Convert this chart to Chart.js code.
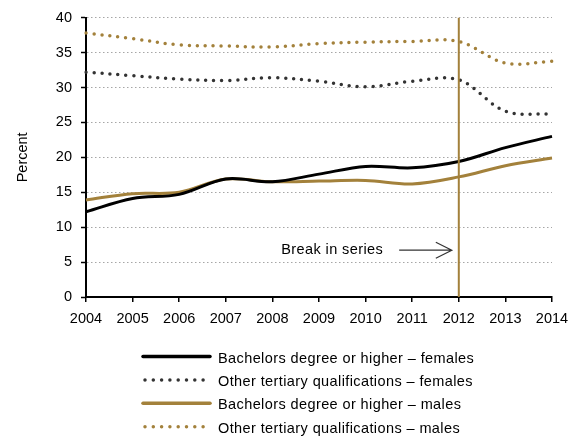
<!DOCTYPE html>
<html>
<head>
<meta charset="utf-8">
<script src="https://cdn.jsdelivr.net/npm/chart.js@4/dist/chart.umd.min.js"></script>
<style>
html,body{margin:0;padding:0;background:#fff;}
#wrap{width:577px;height:436px;}
</style>
</head>
<body>
<div id="wrap"><canvas id="c" width="577" height="436"></canvas></div>
<script>
const years = ['2004','2005','2006','2007','2008','2009','2010','2011','2012','2013','2014'];
const bachelorsFemales = [12.2, 14.1, 14.7, 16.9, 16.5, 17.6, 18.7, 18.5, 19.4, 21.4, 23.0];
const otherFemales     = [32.2, 31.7, 31.2, 31.0, 31.4, 30.9, 30.1, 30.9, 31.1, 26.6, 26.2];
const bachelorsMales   = [13.9, 14.8, 15.0, 16.9, 16.5, 16.6, 16.7, 16.2, 17.2, 18.8, 19.9];
const otherMales       = [37.8, 37.0, 36.1, 35.95, 35.8, 36.3, 36.5, 36.6, 36.6, 33.5, 33.75];
const seriesLabels = [
  'Bachelors degree or higher \u2013 females',
  'Other tertiary qualifications \u2013 females',
  'Bachelors degree or higher \u2013 males',
  'Other tertiary qualifications \u2013 males'
];
const breakYear = '2012';
const breakText = 'Break in series';

const BLACK = '#000000';
const GOLD = '#a3813b';
const DOT_DARK = '#333333';
const FONT = '"Liberation Sans", Arial, sans-serif';
const FS = 14.5;

const solid = (c) => ({borderColor: c, backgroundColor: c, borderWidth: 3, pointRadius: 0, tension: 0.35, fill: false, borderCapStyle: 'butt'});
const dotted = (c) => ({borderColor: c, backgroundColor: c, borderWidth: 3.5, borderDash: [0, 8], borderCapStyle: 'round', pointRadius: 0, tension: 0.35, fill: false});

const annotationPlugin = {
  id: 'breakAnno',
  afterDatasetsDraw(chart) {
    const ctx = chart.ctx, xs = chart.scales.x, ys = chart.scales.y, ca = chart.chartArea;
    const i0 = years.indexOf(breakYear);
    const bx = xs.getPixelForValue(i0);
    ctx.save();
    ctx.strokeStyle = GOLD; ctx.lineWidth = 2;
    ctx.beginPath(); ctx.moveTo(bx, ys.getPixelForValue(40)); ctx.lineTo(bx, ca.bottom); ctx.stroke();
    const yA = ys.getPixelForValue(6.7);
    const x1 = xs.getPixelForValue(i0 - 1.28), x2 = xs.getPixelForValue(i0 - 0.15);
    ctx.strokeStyle = '#333'; ctx.lineWidth = 1.2;
    ctx.beginPath(); ctx.moveTo(x1, yA); ctx.lineTo(x2, yA);
    ctx.moveTo(x2 - 16, yA - 8); ctx.lineTo(x2, yA); ctx.lineTo(x2 - 16, yA + 8);
    ctx.stroke();
    ctx.fillStyle = '#000'; ctx.font = FS + 'px ' + FONT; ctx.textAlign = 'left'; ctx.textBaseline = 'middle';
    try { ctx.letterSpacing = '0.4px'; } catch (e) {}
    ctx.fillText(breakText, xs.getPixelForValue(i0 - 3.81), yA);
    ctx.restore();
  }
};

const legendPlugin = {
  id: 'customLegend',
  afterDraw(chart) {
    const ctx = chart.ctx;
    const x0 = 143, x1 = 210, tx = 218, y0 = 356.5, dy = 23.4;
    ctx.save();
    chart.data.datasets.forEach((ds, i) => {
      const y = y0 + i * dy;
      ctx.strokeStyle = ds.borderColor; ctx.lineWidth = 3.5;
      ctx.lineCap = 'round';
      ctx.setLineDash(ds.borderDash ? [0, 8.3] : []);
      ctx.beginPath(); ctx.moveTo(x0 + (ds.borderDash ? 2 : 0), y); ctx.lineTo(x1, y); ctx.stroke();
      ctx.setLineDash([]);
      ctx.fillStyle = '#000'; ctx.font = FS + 'px ' + FONT; ctx.textAlign = 'left'; ctx.textBaseline = 'middle';
      try { ctx.letterSpacing = '0.4px'; } catch (e) {}
      ctx.fillText(ds.label, tx, y + 2);
    });
    ctx.restore();
  }
};

new Chart(document.getElementById('c'), {
  type: 'line',
  data: {
    labels: years,
    datasets: [
      Object.assign({label: seriesLabels[0], data: bachelorsFemales}, solid(BLACK)),
      Object.assign({label: seriesLabels[1], data: otherFemales}, dotted(DOT_DARK)),
      Object.assign({label: seriesLabels[2], data: bachelorsMales}, solid(GOLD)),
      Object.assign({label: seriesLabels[3], data: otherMales}, dotted(GOLD))
    ]
  },
  options: {
    responsive: false,
    animation: false,
    devicePixelRatio: 1,
    layout: {padding: {left: 0, right: 25, top: 17, bottom: 99}},
    plugins: {legend: {display: false}, tooltip: {enabled: false}},
    scales: {
      x: {
        offset: false,
        afterFit: s => { s.height = 40; },
        grid: {display: true, drawOnChartArea: false, drawTicks: true, tickLength: 5, color: '#000', lineWidth: 1.5},
        border: {display: true, color: '#000', width: 2},
        ticks: {color: '#000', font: {family: FONT, size: FS}, padding: 8, maxRotation: 0, autoSkip: false}
      },
      y: {
        min: 0, max: 40,
        afterFit: s => { s.width = 86; },
        title: {display: true, text: 'Percent', color: '#000', font: {family: FONT, size: FS}, padding: {top: 14, bottom: 0}},
        grid: {color: '#a6a6a6', lineWidth: 1, drawTicks: true, tickLength: 5, tickColor: '#000', tickWidth: 1.5,
               drawOnChartArea: true},
        border: {display: true, color: '#000', width: 2, dash: [1.5, 2.5]},
        ticks: {stepSize: 5, color: '#000', font: {family: FONT, size: FS}, padding: 9}
      }
    }
  },
  plugins: [annotationPlugin, legendPlugin]
});
</script>
</body>
</html>
